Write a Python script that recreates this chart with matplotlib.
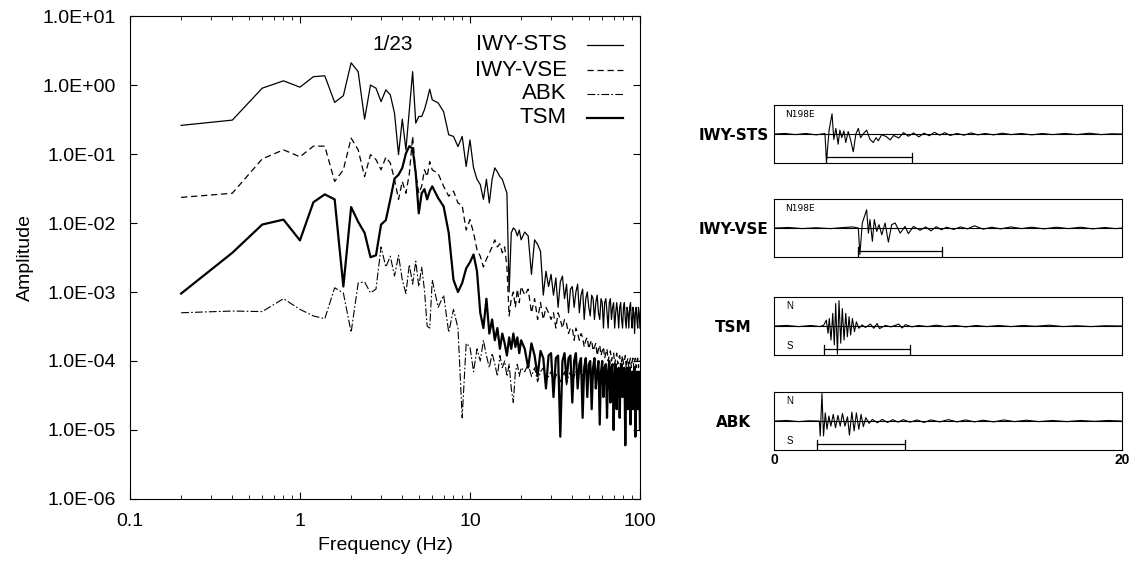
import matplotlib
matplotlib.use("Agg")
import matplotlib.pyplot as plt
from matplotlib.ticker import FixedLocator, FuncFormatter, LogLocator, NullLocator

plt.rcParams['font.family'] = ['Liberation Sans', 'DejaVu Sans']

# frequency grid (Hz)
freq = [0.2, 0.4, 0.6, 0.8, 1.0, 1.2, 1.4, 1.6, 1.8, 2.0,
        2.2, 2.4, 2.6, 2.8, 3.0, 3.2, 3.4, 3.6, 3.8, 4.0,
        4.2, 4.4, 4.6, 4.8, 5.0, 5.2, 5.4, 5.6, 5.8, 6.0,
        6.5, 7.0, 7.5, 8.0, 8.5, 9.0, 9.5, 10.0, 10.5, 11.0,
        11.5, 12.0, 12.5, 13.0, 13.5, 14.0, 14.5, 15.0, 15.5, 16.0,
        16.5, 17.0, 17.5, 18.0, 18.5, 19.0, 19.5, 20.0,
        21, 22, 23, 24, 25, 26, 27, 28, 29, 30,
        31, 32, 33, 34, 35, 36, 37, 38, 39, 40,
        41, 42, 43, 44, 45, 46, 47, 48, 49, 50,
        51, 52, 53, 54, 55, 56, 57, 58, 59, 60,
        61, 62, 63, 64, 65, 66, 67, 68, 69, 70,
        71, 72, 73, 74, 75, 76, 77, 78, 79, 80,
        81, 82, 83, 84, 85, 86, 87, 88, 89, 90,
        91, 92, 93, 94, 95, 96, 97, 98, 99, 100]

amp_sts = [0.26, 0.31, 0.90, 1.15, 0.93, 1.32, 1.36, 0.56, 0.70, 2.1,
           1.56, 0.32, 1.0, 0.90, 0.575, 0.85, 0.72, 0.39, 0.098, 0.32,
           0.115, 0.44, 1.56, 0.28, 0.35, 0.35, 0.44, 0.61, 0.87, 0.61,
           0.55, 0.41, 0.19, 0.18, 0.128, 0.18, 0.066, 0.16, 0.063, 0.043,
           0.036, 0.022, 0.043, 0.0195, 0.043, 0.063, 0.055, 0.047, 0.043, 0.034,
           0.027, 0.001, 0.0072, 0.0085, 0.0079, 0.0065, 0.0079, 0.0057,
           0.0074, 0.0065, 0.0018, 0.0057, 0.0049, 0.0039, 0.0009, 0.0020, 0.0012, 0.0018,
           0.0009, 0.0016, 0.0006, 0.0014, 0.0017, 0.0008, 0.0013, 0.0005, 0.0011, 0.0012,
           0.0006, 0.0010, 0.0013, 0.0005, 0.0009, 0.0011, 0.0004, 0.0008, 0.0010, 0.0006,
           0.00045, 0.0009, 0.0008, 0.0004, 0.0007, 0.0009, 0.0005, 0.0004, 0.0008, 0.0007,
           0.0003, 0.0007, 0.0008, 0.0005, 0.0003, 0.0007, 0.0008, 0.0004, 0.0006, 0.0007,
           0.0003, 0.0005, 0.0007, 0.0005, 0.0003, 0.0006, 0.0007, 0.0004, 0.0003, 0.0006,
           0.0007, 0.0004, 0.0003, 0.0006, 0.0005, 0.0003, 0.0006, 0.0007, 0.0004, 0.0003,
           0.0006, 0.0005, 0.00025, 0.0005, 0.0006, 0.0004, 0.0003, 0.0006, 0.0005, 0.0003]

amp_vse = [0.0235, 0.027, 0.085, 0.115, 0.091, 0.13, 0.13, 0.040, 0.059, 0.17,
           0.115, 0.047, 0.098, 0.083, 0.059, 0.09, 0.074, 0.043, 0.022, 0.040,
           0.027, 0.052, 0.18, 0.052, 0.027, 0.034, 0.059, 0.047, 0.078, 0.059,
           0.052, 0.034, 0.0245, 0.029, 0.0195, 0.018, 0.0079, 0.0112, 0.0072, 0.0041,
           0.0033, 0.0023, 0.003, 0.0037, 0.0045, 0.0057, 0.0045, 0.005, 0.0037, 0.0045,
           0.0023, 0.00045, 0.0008, 0.0010, 0.0006, 0.0011, 0.0007, 0.0012,
           0.0009, 0.0011, 0.0005, 0.0008, 0.0004, 0.0007, 0.0004, 0.0006, 0.0005, 0.0004,
           0.0005, 0.0003, 0.0005, 0.0004, 0.0003, 0.0004, 0.00035, 0.00025, 0.0003, 0.0003,
           0.0002, 0.0003, 0.00025, 0.0002, 0.00025, 0.00022, 0.00016, 0.0002, 0.00022, 0.00015,
           0.00018, 0.0002, 0.00014, 0.00016, 0.00018, 0.00012, 0.00015, 0.00017, 0.00012, 0.00014,
           0.00016, 0.00011, 0.00013, 0.00015, 0.0001, 0.00012, 0.00014, 0.0001, 0.00012, 0.00013,
           0.00009, 0.00011, 0.00013, 0.00009, 0.00011, 0.00012, 0.00008, 0.0001, 0.00012, 0.00009,
           0.0001, 0.00012, 0.00008, 0.0001, 0.00011, 0.00008, 0.0001, 0.00011, 0.00008, 0.0001,
           0.00011, 0.00008, 0.0001, 0.00011, 0.00008, 0.0001, 0.00011, 0.00008, 0.0001, 0.0001]

amp_abk = [5.0e-4, 5.3e-4, 5.2e-4, 8.0e-4, 5.6e-4, 4.5e-4, 4.1e-4, 1.15e-3, 9.7e-4, 2.6e-4,
           1.35e-3, 1.4e-3, 9.7e-4, 1.1e-3, 4.5e-3, 2.3e-3, 3.3e-3, 1.7e-3, 3.4e-3, 1.5e-3,
           9.5e-4, 2.5e-3, 1.3e-3, 2.8e-3, 1.2e-3, 2.3e-3, 1.07e-3, 3.2e-4, 3.0e-4, 1.5e-3,
           6e-4, 9e-4, 2.6e-4, 5.6e-4, 3e-4, 1.5e-5, 1.8e-4, 1.6e-4, 7e-5, 1.5e-4,
           1.0e-4, 2.0e-4, 1.2e-4, 8e-5, 1.3e-4, 9e-5, 6e-5, 1.2e-4, 8e-5, 1.0e-4,
           6e-5, 9e-5, 4e-5, 2.5e-5, 7e-5, 9e-5, 6e-5, 8e-5,
           7e-5, 9e-5, 6e-5, 8e-5, 5e-5, 7e-5, 8e-5, 5e-5, 6e-5, 7e-5,
           5e-5, 6e-5, 7e-5, 5e-5, 6e-5, 7e-5, 4.5e-5, 6e-5, 7e-5, 5e-5,
           6e-5, 7e-5, 5e-5, 6e-5, 8e-5, 6e-5, 7e-5, 9e-5, 6e-5, 8e-5,
           9e-5, 6e-5, 8e-5, 9e-5, 6e-5, 7e-5, 8e-5, 5e-5, 7e-5, 8e-5,
           5e-5, 7e-5, 8e-5, 5e-5, 6e-5, 7e-5, 4e-5, 6e-5, 7e-5, 4e-5,
           6e-5, 7e-5, 4e-5, 5e-5, 6e-5, 4e-5, 5e-5, 6e-5, 3.5e-5, 5e-5,
           6e-5, 3.5e-5, 5e-5, 6e-5, 3.5e-5, 5e-5, 5.5e-5, 3e-5, 5e-5, 5.5e-5,
           3e-5, 4.5e-5, 5e-5, 3e-5, 4.5e-5, 5e-5, 3e-5, 4e-5, 5e-5, 3e-5]

amp_tsm = [9.5e-4, 3.7e-3, 9.5e-3, 0.0112, 5.6e-3, 0.020, 0.026, 0.022, 1.2e-3, 0.017,
           0.0104, 0.0072, 3.2e-3, 3.4e-3, 9.5e-3, 0.011, 0.022, 0.044, 0.050, 0.063,
           0.102, 0.13, 0.12, 0.052, 0.0138, 0.027, 0.031, 0.022, 0.029, 0.034,
           0.023, 0.0174, 0.0072, 1.5e-3, 1.0e-3, 1.35e-3, 2.2e-3, 2.7e-3, 3.5e-3, 2.0e-3,
           5e-4, 3e-4, 8e-4, 2.5e-4, 4e-4, 2e-4, 3e-4, 1.5e-4, 2.5e-4, 1.8e-4,
           1.2e-4, 2.2e-4, 1.5e-4, 2.5e-4, 1.6e-4, 2.2e-4, 1.3e-4, 2.0e-4,
           1.5e-4, 8e-5, 1.8e-4, 1.2e-4, 6e-5, 1.4e-4, 1.1e-4, 4e-5, 1.2e-4, 1.3e-4,
           3e-5, 1.1e-4, 1.2e-4, 8e-6, 1.0e-4, 1.3e-4, 5e-5, 1.1e-4, 1.2e-4, 2.5e-5,
           1.0e-4, 1.3e-4, 4e-5, 9e-5, 1.1e-4, 1.5e-5, 8e-5, 1.1e-4, 3e-5, 9e-5,
           1.0e-4, 2e-5, 8e-5, 1.1e-4, 4e-5, 7e-5, 1.0e-4, 1.2e-5, 7e-5, 1.0e-4,
           3e-5, 8e-5, 9e-5, 1.5e-5, 7e-5, 1.0e-4, 2.5e-5, 8e-5, 9e-5, 1e-5,
           6e-5, 9e-5, 2e-5, 7e-5, 8e-5, 1.5e-5, 6e-5, 9e-5, 3e-5, 7e-5,
           8e-5, 6e-6, 6e-5, 8e-5, 2e-5, 6e-5, 8e-5, 1.2e-5, 6e-5, 7e-5,
           2e-5, 7e-5, 8e-5, 8e-6, 6e-5, 7e-5, 2e-5, 6e-5, 7e-5, 1e-5]

# seismograms (time s, normalised amplitude) and analysis windows
sts_t = [0.0, 0.6, 1.2, 1.8, 2.4, 2.9, 2.99, 3.14, 3.31, 3.41, 3.53, 3.66, 3.76, 3.87, 3.99, 4.1,
         4.24, 4.37, 4.53, 4.68, 4.82, 4.95, 5.1, 5.3, 5.49, 5.68, 5.84, 5.97, 6.17, 6.45, 6.65, 6.85,
         7.15, 7.42, 7.7, 8.0, 8.3, 8.6, 8.9, 9.2, 9.5, 9.8, 10.1, 10.5, 10.9, 11.3, 11.7, 12.1, 12.6,
         13.1, 13.6, 14.2, 14.8, 15.4, 16.0, 16.7, 17.4, 18.1, 18.8, 19.4, 20.0]
sts_a = [0.0, 0.02, -0.02, 0.02, -0.03, 0.02, -0.97, 0.14, 0.72, -0.19, 0.2, -0.36, 0.14, -0.13, 0.11, -0.3,
         0.09, -0.19, -0.63, 0.0, 0.2, -0.13, 0.0, 0.14, -0.19, -0.3, -0.13, -0.24, -0.02, -0.1, -0.21, -0.05,
         -0.14, 0.05, -0.08, 0.04, -0.1, 0.03, -0.06, 0.06, -0.04, 0.05, -0.05, 0.02, -0.04, 0.04, -0.03, 0.02,
         -0.03, 0.03, -0.02, 0.02, -0.03, 0.02, -0.02, 0.02, -0.02, 0.03, -0.02, 0.01, 0.0]
vse_t = [0.0, 0.8, 1.6, 2.4, 3.2, 4.0, 4.5, 4.82, 4.91, 5.05, 5.3, 5.4, 5.49, 5.63, 5.74, 5.88, 6.01, 6.17,
         6.36, 6.55, 6.74, 6.94, 7.23, 7.51, 7.7, 7.99, 8.37, 8.7, 9.0, 9.3, 9.6, 9.9, 10.3, 10.7, 11.1, 11.5,
         12.0, 12.5, 13.0, 13.6, 14.2, 14.8, 15.5, 16.2, 16.9, 17.6, 18.3, 19.0, 19.6, 20.0]
vse_a = [0.0, 0.02, -0.02, 0.01, -0.02, 0.02, 0.04, 0.0, -0.94, 0.18, 0.65, -0.18, 0.3, -0.47, 0.3, -0.12,
         0.12, -0.24, 0.18, -0.5, 0.12, 0.18, -0.18, 0.06, -0.2, 0.06, -0.08, 0.04, -0.1, 0.05, -0.06, 0.03,
         -0.05, 0.04, -0.03, 0.08, -0.04, 0.03, -0.03, 0.04, -0.02, 0.03, -0.03, 0.03, -0.02, 0.03, -0.03,
         0.02, -0.02, 0.0]
tsm_t = [0.0, 0.7, 1.4, 2.1, 2.6, 2.83, 2.98, 3.08, 3.15, 3.25, 3.35, 3.44, 3.52, 3.62, 3.71, 3.81,
         3.9, 4.0, 4.1, 4.19, 4.29, 4.38, 4.48, 4.6, 4.71, 4.85, 5.04, 5.23, 5.52, 5.71, 5.9, 6.04, 6.38,
         6.7, 7.15, 7.34, 7.53, 7.9, 8.3, 8.8, 9.3, 9.8, 10.4, 11.0, 11.6, 12.2, 12.9, 13.6, 14.3, 15.0,
         15.8, 16.6, 17.4, 18.2, 19.0, 20.0]
tsm_a = [0.0, 0.02, -0.02, 0.02, -0.02, 0.03, 0.21, -0.26, 0.27, -0.5, 0.45, -0.67, 0.8, -1.0, 0.9, -0.61,
         0.62, -0.5, 0.45, -0.38, 0.33, -0.32, 0.27, -0.2, 0.15, -0.08, 0.04, -0.05, 0.07, -0.08, 0.09,
         -0.09, 0.02, -0.03, 0.07, -0.07, 0.05, -0.03, 0.02, -0.02, 0.03, -0.02, 0.02, -0.03, 0.02, -0.02,
         0.02, -0.02, 0.02, -0.01, 0.03, -0.02, 0.01, -0.02, 0.01, 0.0]
abk_t = [0.0, 0.7, 1.4, 2.0, 2.58, 2.63, 2.73, 2.82, 2.92, 3.02, 3.13, 3.24, 3.38, 3.51, 3.65, 3.78,
         3.91, 4.05, 4.2, 4.31, 4.45, 4.58, 4.71, 4.85, 4.98, 5.11, 5.25, 5.44, 5.63, 5.92, 6.2, 6.5, 6.8,
         7.1, 7.4, 7.8, 8.2, 8.6, 9.0, 9.5, 10.0, 10.5, 11.0, 11.5, 12.0, 12.6, 13.2, 13.8, 14.5, 15.2,
         16.0, 16.8, 17.6, 18.4, 19.2, 20.0]
abk_a = [0.0, 0.02, -0.02, 0.01, 0.0, -0.53, 0.98, -0.53, 0.29, -0.29, 0.18, -0.18, 0.24, -0.24, 0.2,
         -0.18, 0.27, -0.18, 0.15, -0.5, 0.32, -0.35, 0.29, -0.29, 0.24, -0.2, 0.12, -0.08, 0.06, -0.06,
         0.06, -0.05, 0.05, -0.04, 0.05, -0.04, 0.04, -0.05, 0.04, -0.03, 0.05, -0.03, 0.04, -0.03, 0.03,
         -0.03, 0.04, -0.02, 0.03, -0.02, 0.02, -0.02, 0.02, -0.01, 0.02, 0.0]

stations = ["IWY-STS", "IWY-VSE", "ABK", "TSM"]
styles = [dict(ls="-", lw=0.9), dict(ls=(0, (5, 3)), lw=0.9),
          dict(ls=(0, (7, 2, 1.5, 2)), lw=0.8), dict(ls="-", lw=1.6)]

fig = plt.figure(figsize=(11.44, 5.68), dpi=100)
ax = fig.add_axes([0.1136, 0.1215, 0.4458, 0.8503])

for name, amp, st in zip(stations, [amp_sts, amp_vse, amp_abk, amp_tsm], styles):
    ax.plot(freq, amp, color="black", **st)

ax.set_xscale("log")
ax.set_yscale("log")
ax.set_xlim(0.1, 100)
ax.set_ylim(1e-6, 10)
ax.yaxis.set_major_locator(FixedLocator([1e-6, 1e-5, 1e-4, 1e-3, 1e-2, 1e-1, 1, 10]))
ax.yaxis.set_major_formatter(FuncFormatter(lambda v, p: f"{v:.1E}"))
ax.yaxis.set_minor_locator(NullLocator())
ax.xaxis.set_major_locator(FixedLocator([0.1, 1, 10, 100]))
ax.xaxis.set_major_formatter(FuncFormatter(lambda v, p: f"{v:g}"))
ax.xaxis.set_minor_locator(LogLocator(base=10, subs=range(2, 10)))
ax.tick_params(which="both", direction="in", top=True, right=True, labelsize=14, pad=10)
ax.tick_params(which="major", length=5)
ax.tick_params(which="minor", length=3)
ax.set_xlabel("Frequency (Hz)", fontsize=14, labelpad=5)
ax.set_ylabel("Amplitude", fontsize=14, labelpad=6)

# legend drawn as label text followed by a sample line
leg_y = [0.940, 0.888, 0.839, 0.789]
for name, st, y in zip(stations, styles, leg_y):
    ax.text(0.857, y, name, transform=ax.transAxes, ha="right", va="center", fontsize=16)
    ax.plot([0.896, 0.967], [y, y], transform=ax.transAxes, color="black", clip_on=False, **st)
ax.text(0.516, 0.940, "1/23", transform=ax.transAxes, ha="center", va="center", fontsize=15)

# seismogram panels
panels = [("IWY-STS", sts_t, sts_a, [2.95, 7.9], "N198E", 0.713),
          ("IWY-VSE", vse_t, vse_a, [4.8, 9.65], "N198E", 0.5475),
          ("TSM", tsm_t, tsm_a, [2.83, 7.8], None, 0.375),
          ("ABK", abk_t, abk_a, [2.42, 7.5], None, 0.2077)]
narrow = ["Liberation Sans Narrow", "DejaVu Sans"]
for i, (name, t, a, win, comp, bottom) in enumerate(panels):
    sax = fig.add_axes([0.677, bottom, 0.304, 0.102])
    sax.plot(t, a, color="black", lw=0.8)
    sax.axhline(0, color="black", lw=0.8)
    sax.plot([win[0], win[0]], [-1.03, -0.68], color="black", lw=0.9)
    sax.plot([win[1], win[1]], [-1.03, -0.68], color="black", lw=0.9)
    sax.plot(win, [-0.82, -0.82], color="black", lw=0.9)
    sax.set_xlim(0, 20)
    sax.set_ylim(-1.03, 1.03)
    sax.set_yticks([])
    for s in sax.spines.values():
        s.set_linewidth(0.8)
    if comp:
        sax.text(0.03, 0.83, comp, transform=sax.transAxes, fontsize=6.5, family=narrow, va="center")
    else:
        sax.text(0.035, 0.84, "N", transform=sax.transAxes, fontsize=7, va="center")
        sax.text(0.035, 0.15, "S", transform=sax.transAxes, fontsize=7, va="center")
    sax.text(-0.118, 0.47, name, transform=sax.transAxes, ha="center", va="center",
             fontsize=11, fontweight="bold", family=narrow)
    if i == 3:
        sax.set_xticks([0, 20])
        sax.set_xticklabels(["0", "20"], fontsize=10, fontweight="bold")
        sax.tick_params(axis="x", length=0, pad=2)
    else:
        sax.set_xticks([])

fig.savefig("out.png", dpi=100)
